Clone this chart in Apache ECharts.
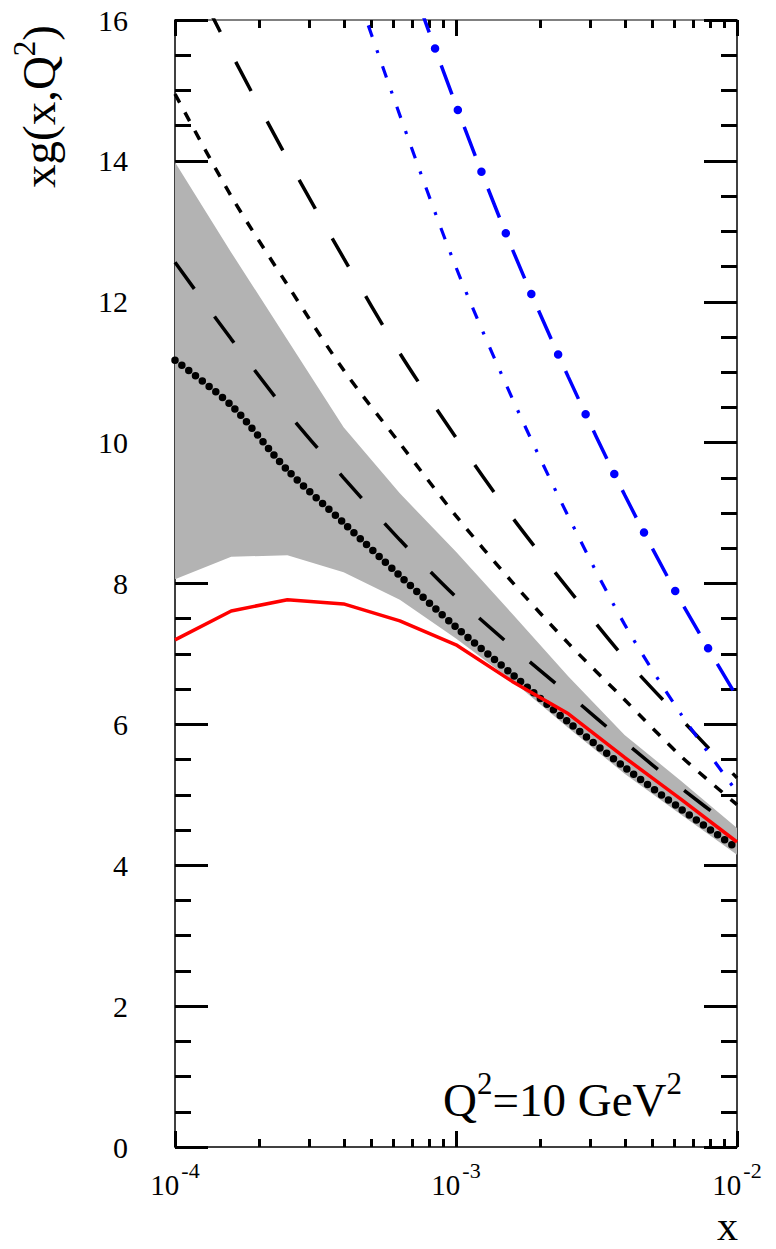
<!DOCTYPE html>
<html>
<head>
<meta charset="utf-8">
<title>xg(x,Q2) at Q2=10 GeV2</title>
<script src="https://cdn.jsdelivr.net/npm/echarts@6/dist/echarts.min.js"></script>
<style>
  html, body { margin: 0; padding: 0; background: #fff; }
  #chart { width: 776px; height: 1249px; }
</style>
</head>
<body>
<div id="chart"></div>
<script>
// x grid (5 points per decade) and the curves
var xGrid = [1e-4, 1.585e-4, 2.512e-4, 3.981e-4, 6.310e-4, 1e-3, 1.585e-3, 2.512e-3, 3.981e-3, 6.310e-3, 1e-2];
var bandUpper = [13.98, 12.70, 11.46, 10.22, 9.28, 8.45, 7.57, 6.68, 5.85, 5.20, 4.53];
var bandLower = [8.06, 8.38, 8.40, 8.16, 7.77, 7.22, 6.62, 5.95, 5.30, 4.72, 4.15];
var redSolid = [7.20, 7.61, 7.77, 7.71, 7.47, 7.13, 6.61, 6.15, 5.53, 4.94, 4.33];
var blackDots = [11.17, 10.53, 9.61, 8.86, 8.11, 7.38, 6.71, 6.03, 5.39, 4.80, 4.24];
var longDashLow = [12.56, 11.47, 10.43, 9.50, 8.62, 7.81, 7.10, 6.43, 5.75, 5.10, 4.49];
var shortDash = [14.95, 13.50, 12.24, 11.03, 9.99, 8.96, 8.02, 7.15, 6.35, 5.55, 4.86];
var longDashHigh = [17.10, 15.53, 14.03, 12.62, 11.27, 10.07, 8.94, 7.92, 6.94, 6.08, 5.24];
var blueDashDot = [null, null, 19.4, 16.95, 14.65, 12.49, 10.63, 8.95, 7.42, 6.15, 5.04];
var blueLongDashDot = [null, null, null, 19.4, 17.0, 14.79, 12.75, 10.93, 9.26, 7.75, 6.39];

var xMinorTicks = [2e-4, 3e-4, 4e-4, 5e-4, 6e-4, 7e-4, 8e-4, 9e-4,
                   2e-3, 3e-3, 4e-3, 5e-3, 6e-3, 7e-3, 8e-3, 9e-3];

var serif = 'Liberation Serif';

function pairs(ys) {
    var out = [];
    for (var i = 0; i < xGrid.length; i++) {
        if (ys[i] != null) out.push([xGrid[i], ys[i]]);
    }
    return out;
}
// band rows are [y, x] so that the stack runs on y (dimension 0)
function bandRows(ys) {
    return xGrid.map(function (x, i) { return [ys[i], x]; });
}
var bandWidth = bandUpper.map(function (u, i) { return +(u - bandLower[i]).toFixed(3); });

function curve(name, ys, style, smooth) {
    return {
        name: name, type: 'line', data: pairs(ys), symbol: 'none',
        smooth: smooth, silent: true, clip: true,
        lineStyle: style
    };
}

var chart = echarts.init(document.getElementById('chart'), null, {renderer: 'svg'});

function xAxisBase(pos, ticks, len) {
    var a = {
        type: 'log', logBase: 10, position: pos, min: 1e-4, max: 1e-2,
        axisLine: {show: false},
        axisTick: {show: true, inside: true, length: len, lineStyle: {color: '#000', width: 3}},
        axisLabel: {show: false},
        splitLine: {show: false}
    };
    if (ticks) a.axisTick.customValues = ticks;
    return a;
}

var xBottom = xAxisBase('bottom', null, 16);
xBottom.axisLine = {show: true, lineStyle: {color: '#000', width: 1.5}};
xBottom.axisLabel = {
    show: true, margin: 12,
    formatter: function (v) {
        return '{b|10}{s|' + Math.round(Math.log10(v)) + '}';
    },
    rich: {
        b: {fontFamily: serif, fontSize: 29, color: '#000', verticalAlign: 'bottom'},
        s: {fontFamily: serif, fontSize: 22, color: '#000', verticalAlign: 'bottom', padding: [0, 0, 18, 2]}
    }
};
var xTop = xAxisBase('top', null, 16);
xTop.axisLine = {show: true, lineStyle: {color: '#808080', width: 2}};

function yAxisBase(pos, labels) {
    return {
        type: 'value', position: pos, min: 0, max: 16, interval: 2,
        axisLine: {show: true, lineStyle: {color: '#000', width: 1.5}},
        axisTick: {show: true, inside: true, length: 33, lineStyle: {color: '#000', width: 3}},
        minorTick: {show: true, splitNumber: 4, length: 16, lineStyle: {color: '#000', width: 3}},
        axisLabel: {show: labels, margin: 47, fontFamily: serif, fontSize: 30, color: '#000'},
        splitLine: {show: false},
        minorSplitLine: {show: false}
    };
}

var option = {
    animation: false,
    backgroundColor: '#fff',
    grid: {left: 175, right: 39, top: 20, bottom: 102, containLabel: false},
    xAxis: [xBottom, xAxisBase('bottom', xMinorTicks, 8), xTop, xAxisBase('top', xMinorTicks, 8)],
    yAxis: [yAxisBase('left', true), yAxisBase('right', false)],
    series: [
        {
            name: 'band low', type: 'line', data: bandRows(bandLower), encode: {x: 1, y: 0},
            stack: 'band', symbol: 'none', silent: true, lineStyle: {opacity: 0}
        },
        {
            name: 'band', type: 'line', data: bandRows(bandWidth), encode: {x: 1, y: 0},
            stack: 'band', symbol: 'none', silent: true, lineStyle: {opacity: 0},
            areaStyle: {color: '#b3b3b3', opacity: 1}
        },
        curve('short dashed', shortDash, {color: '#000', width: 3.5, type: [10, 11]}, 0.3),
        curve('long dashed high', longDashHigh, {color: '#000', width: 3.5, type: [33, 34]}, 0.3),
        curve('long dashed low', longDashLow, {color: '#000', width: 3.5, type: [33, 34]}, 0.3),
        curve('dotted', blackDots, {color: '#000', width: 7.5, type: [0, 8.6], cap: 'round'}, 0.3),
        curve('red', redSolid, {color: '#ff0000', width: 3.5}, false),
        curve('blue dash-dot', blueDashDot, {color: '#0000ff', width: 3.2, type: [12, 14, 3, 14]}, 0.3),
        curve('blue long dash-dot', blueLongDashDot, {color: '#0000ff', width: 3.5, type: [31, 35], dashOffset: 29}, 0.3),
        curve('blue long dash-dot (dots)', blueLongDashDot,
              {color: '#0000ff', width: 8.5, type: [0, 66], cap: 'round', dashOffset: 46.5}, 0.3)
    ],
    graphic: [
        {
            type: 'text', x: 62, y: 188, rotation: Math.PI / 2, silent: true, z: 100,
            style: {
                text: '{n|xg(x,Q}{s|2}{n|)}',
                align: 'left', verticalAlign: 'bottom', fill: '#000',
                rich: {
                    n: {fontFamily: serif, fontSize: 47, verticalAlign: 'bottom'},
                    s: {fontFamily: serif, fontSize: 31, verticalAlign: 'bottom', padding: [0, 0, 22, 0]}
                }
            }
        },
        {
            type: 'text', x: 443, y: 1123, silent: true, z: 100,
            style: {
                text: '{n|Q}{s|2}{n|=10 GeV}{s|2}',
                align: 'left', verticalAlign: 'bottom', fill: '#000',
                rich: {
                    n: {fontFamily: serif, fontSize: 47, verticalAlign: 'bottom'},
                    s: {fontFamily: serif, fontSize: 31, verticalAlign: 'bottom', padding: [0, 0, 24, 0]}
                }
            }
        },
        {
            type: 'text', x: 738, y: 1226, silent: true, z: 100,
            style: {
                text: 'x', align: 'right', verticalAlign: 'middle', fill: '#000',
                fontFamily: serif, fontSize: 42
            }
        }
    ]
};
chart.setOption(option);
</script>
</body>
</html>
